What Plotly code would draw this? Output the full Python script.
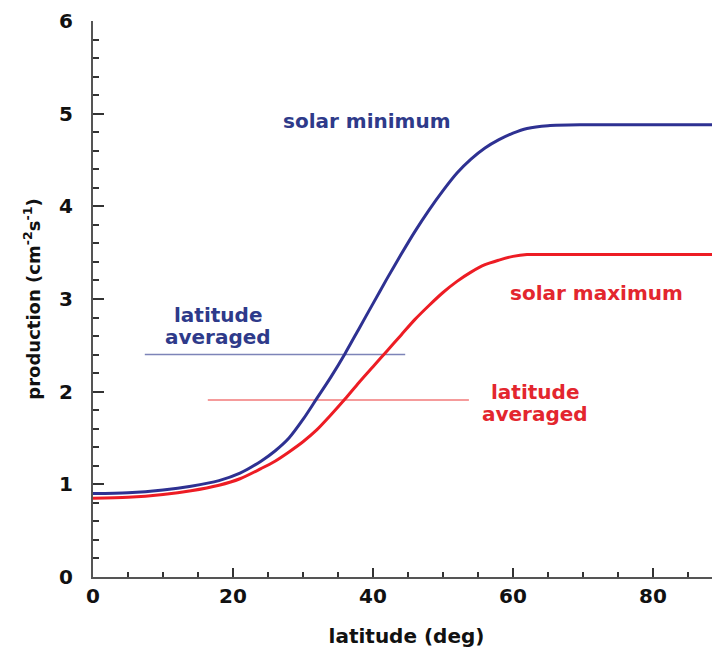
import plotly.graph_objects as go

# Data
latitude = [0, 5, 10, 14, 18, 21, 24, 26, 28, 30, 32, 34, 36, 38, 40, 42, 44, 46, 48,
            50, 52, 54, 56, 58, 60, 62, 65, 70, 80, 90]
solar_minimum = [0.90, 0.91, 0.94, 0.98, 1.04, 1.12, 1.25, 1.36, 1.50, 1.70, 1.93, 2.16,
                 2.41, 2.68, 2.95, 3.22, 3.48, 3.73, 3.96, 4.17, 4.36, 4.51, 4.63, 4.72,
                 4.79, 4.84, 4.87, 4.88, 4.88, 4.88]
solar_maximum = [0.85, 0.86, 0.89, 0.93, 0.99, 1.06, 1.17, 1.25, 1.35, 1.46, 1.59, 1.75,
                 1.92, 2.10, 2.27, 2.44, 2.61, 2.78, 2.93, 3.07, 3.19, 3.29, 3.37, 3.42,
                 3.46, 3.48, 3.48, 3.48, 3.48, 3.48]

avg_min_lat = [7.4, 44.6]
avg_min_val = [2.40, 2.40]
avg_max_lat = [16.4, 53.7]
avg_max_val = [1.91, 1.91]

BLUE = "#2e3192"
RED = "#ed1c24"
FONT = "DejaVu Sans, Liberation Sans, Arial, sans-serif"

fig = go.Figure()
fig.add_trace(go.Scatter(x=avg_min_lat, y=avg_min_val, mode="lines",
                         line=dict(color="#7d84b8", width=1.5), showlegend=False))
fig.add_trace(go.Scatter(x=avg_max_lat, y=avg_max_val, mode="lines",
                         line=dict(color="#f27a7a", width=1.5), showlegend=False))
fig.add_trace(go.Scatter(x=latitude, y=solar_maximum, mode="lines",
                         line=dict(color=RED, width=3, shape="spline", smoothing=0.8),
                         showlegend=False))
fig.add_trace(go.Scatter(x=latitude, y=solar_minimum, mode="lines",
                         line=dict(color=BLUE, width=3, shape="spline", smoothing=0.8),
                         showlegend=False))

ann_font_b = dict(family=FONT, size=20, color="#2e3a8a")
ann_font_r = dict(family=FONT, size=20, color="#e3262e")
labels = [
    (39.1, 4.92, "solar minimum", ann_font_b),
    (71.9, 3.065, "solar maximum", ann_font_r),
    (17.85, 2.83, "latitude", ann_font_b),
    (17.8, 2.59, "averaged", ann_font_b),
    (63.15, 2.0, "latitude", ann_font_r),
    (63.2, 1.755, "averaged", ann_font_r),
]
for x, y, t, f in labels:
    fig.add_annotation(x=x, y=y, text="<b>" + t + "</b>", showarrow=False, font=f,
                       xanchor="center", yanchor="middle", borderpad=0)

axis_common = dict(
    showline=True, linecolor="#555555", linewidth=2,
    ticks="inside", tickcolor="#333333", tickwidth=2,
    showgrid=False, zeroline=False, automargin=False,
    tickfont=dict(family=FONT, size=20, color="#111111"),
    tickprefix="<b>", ticksuffix="</b>",
)

fig.update_xaxes(
    range=[0, 627 / 7], dtick=20, tick0=0, ticklen=9,
    minor=dict(ticks="inside", dtick=5, ticklen=5, tickcolor="#333333", tickwidth=1.5),
    title=dict(text="<b>latitude (deg)</b>", font=dict(family=FONT, size=20, color="#111111"),
               standoff=22),
    **axis_common,
)
fig.update_yaxes(
    range=[0, 6], dtick=1, tick0=0, ticklen=11,
    minor=dict(ticks="inside", dtick=0.2, ticklen=6, tickcolor="#333333", tickwidth=1.5),
    title=dict(text="<b>production (cm<sup>-2</sup>s<sup>-1</sup>)</b>",
               font=dict(family=FONT, size=18, color="#111111"), standoff=14),
    ticklabelstandoff=14,
    **axis_common,
)

fig.update_layout(
    width=712, height=642,
    margin=dict(l=85, r=0, t=13, b=73),
    plot_bgcolor="white", paper_bgcolor="white",
    showlegend=False,
)

fig.write_html("out.html")
